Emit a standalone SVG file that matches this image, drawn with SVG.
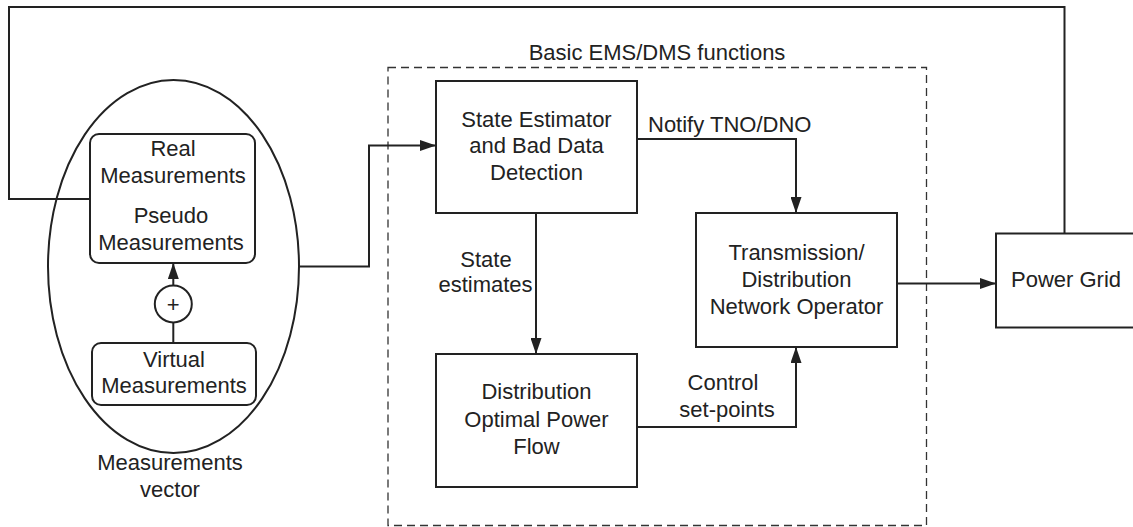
<svg xmlns="http://www.w3.org/2000/svg" width="1133" height="527" viewBox="0 0 1133 527">
  <defs>
    <marker id="arrow" viewBox="0 0 16 11" refX="16" refY="5.5" markerWidth="16" markerHeight="11" markerUnits="userSpaceOnUse" orient="auto">
      <path d="M0,0 L16,5.5 L0,11 Z" fill="#222"/>
    </marker>
    <style>
      .box { fill: #fff; stroke: #222; stroke-width: 2; }
      .wire { fill: none; stroke: #222; stroke-width: 2; }
      .frame { fill: none; stroke: #333; stroke-width: 1.3; stroke-dasharray: 8 5; }
      text { font-family: "Liberation Sans", Arial, sans-serif; font-size: 22px; fill: #222; text-anchor: middle; }
    </style>
  </defs>
  <rect width="1133" height="527" fill="#fff"/>

  <!-- EMS/DMS frame -->
  <g id="ems-dms-frame">
    <rect class="frame" x="388" y="67.5" width="538.5" height="458"/>
    <text x="657" y="60">Basic EMS/DMS functions</text>
  </g>

  <!-- measurement vector -->
  <g id="measurements-vector">
    <ellipse cx="173.5" cy="266.5" rx="125.5" ry="186.5" fill="none" stroke="#222" stroke-width="2"/>
    <text x="170" y="470">Measurements</text>
    <text x="170" y="497">vector</text>
  </g>

  <g id="real-pseudo">
    <rect class="box" x="90" y="134" width="165" height="129" rx="9"/>
    <text x="173" y="156">Real</text>
    <text x="173" y="183">Measurements</text>
    <text x="171" y="223">Pseudo</text>
    <text x="171" y="250">Measurements</text>
  </g>

  <g id="sum">
    <circle cx="173.3" cy="304" r="18.5" fill="#fff" stroke="#222" stroke-width="2"/>
    <text x="173.3" y="312">+</text>
  </g>

  <g id="virtual">
    <rect class="box" x="92" y="343" width="164" height="62" rx="9"/>
    <text x="174" y="367">Virtual</text>
    <text x="174" y="393">Measurements</text>
  </g>

  <g id="state-estimator">
    <rect class="box" x="436" y="81" width="201" height="132"/>
    <text x="536.5" y="127">State Estimator</text>
    <text x="536.5" y="153">and Bad Data</text>
    <text x="536.5" y="180">Detection</text>
  </g>

  <g id="opf">
    <rect class="box" x="436" y="354" width="201" height="133"/>
    <text x="536.5" y="399">Distribution</text>
    <text x="536.5" y="427">Optimal Power</text>
    <text x="536.5" y="454">Flow</text>
  </g>

  <g id="operator">
    <rect class="box" x="696" y="213" width="201" height="134"/>
    <text x="796.5" y="260">Transmission/</text>
    <text x="796.5" y="287">Distribution</text>
    <text x="796.5" y="314">Network Operator</text>
  </g>

  <g id="power-grid">
    <rect class="box" x="996" y="233.5" width="150" height="94"/>
    <text x="1066" y="287">Power Grid</text>
  </g>

  <!-- connectors -->
  <g id="connectors">
    <path class="wire" d="M173.3,285.5 V263" marker-end="url(#arrow)"/>
    <path class="wire" d="M173.3,322.5 V343"/>
    <path class="wire" d="M299,266.5 H369 V145.5 H436" marker-end="url(#arrow)"/>
    <path class="wire" d="M637,139 H796 V213" marker-end="url(#arrow)"/>
    <path class="wire" d="M536,213 V354" marker-end="url(#arrow)"/>
    <path class="wire" d="M637,427 H796 V347" marker-end="url(#arrow)"/>
    <path class="wire" d="M897,283.5 H996" marker-end="url(#arrow)"/>
    <path class="wire" d="M1064.5,233.5 V7 H9 V199 H90"/>
  </g>

  <g id="labels">
    <text x="648" y="132" style="text-anchor:start">Notify TNO/DNO</text>
    <text x="486" y="267">State</text>
    <text x="485.5" y="292">estimates</text>
    <text x="723" y="390">Control</text>
    <text x="727" y="417">set-points</text>
  </g>
</svg>
